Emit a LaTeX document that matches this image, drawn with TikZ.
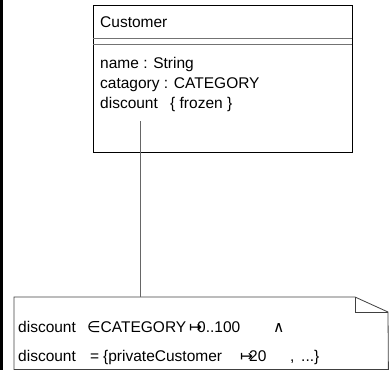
\documentclass[tikz,border=0pt]{standalone}
\usepackage{fontspec}
\setmainfont{Liberation Sans}
\newfontfamily\symfont{DejaVu Sans}
\usetikzlibrary{calc}

\tikzset{
	umltext/.style={font=\fontsize{15.5}{19}\selectfont, inner sep=0pt, anchor=base west},
	classbox/.style={draw, line width=0.8pt, inner sep=0pt, anchor=north west},
	notebox/.style={inner sep=0pt, anchor=north west},
	sepline/.style={line width=1pt, color=black!55},
	link/.style={line width=0.8pt, color=black!60}
}

\begin{document}
\begin{tikzpicture}[x=1pt, y=-1pt]
			%%%%% START %%%%%
			
			\useasboundingbox (0, 0) rectangle (391, 370);
			\fill[black] (0, 0) rectangle (2.5, 370);
			
			% class Customer
			\node[classbox, minimum width=259pt, minimum height=147pt] (cust) at (93, 5) {};
			\draw[sepline] (93, 38) -- (352, 38);
			\draw[sepline] (93, 44) -- (352, 44);
			\node[umltext] (cname) at (100, 27) {Customer};
			\node[umltext] (aname) at (100, 68) {name : String};
			\node[umltext] (acat) at (100, 88) {catagory : CATEGORY};
			\node[umltext] (adisc) at (100, 108) {discount};
			\node[umltext] (afrz) at (170, 108) {\{ frozen \}};
			\coordinate (dsc) at (140, 121);
			
			% note
			\node[notebox, minimum width=374pt, minimum height=72pt] (note) at (14, 297) {};
			\draw[line width=0.8pt, color=black!75] (note.south west) -- (note.north west) -- (355, 297) -- (388, 312) -- (note.south east) -- cycle;
			\draw[line width=0.6pt, color=black!75] (355, 297) -- (355, 312) -- (388, 312);
			
			% first line
			\node[umltext] (dscA) at (18, 332) {discount};
			\node[umltext] (inA) at (87, 332) {{\symfont ∈}CATEGORY};
			\node[umltext] (mapA) at (189, 332) {\symfont ↦};
			\node[umltext] (rngA) at (197, 332) {0..100};
			\node[umltext] (andA) at (273, 332) {\symfont ∧};
			
			% second line
			\node[umltext] (dscB) at (18, 361) {discount};
			\node[umltext] (eqB) at (90, 361) {=};
			\node[umltext] (setB) at (103, 361) {\{privateCustomer};
			\node[umltext] (mapB) at (240, 361) {\symfont ↦};
			\node[umltext] (valB) at (249, 361) {20};
			\node[umltext] (comB) at (290, 361) {,};
			\node[umltext] (dotB) at (301, 361) {...\}};
			
			\draw[link] (dsc) -- (dsc |- note.north);
			
			%%%%% END %%%%%
		\end{tikzpicture}
\end{document}
